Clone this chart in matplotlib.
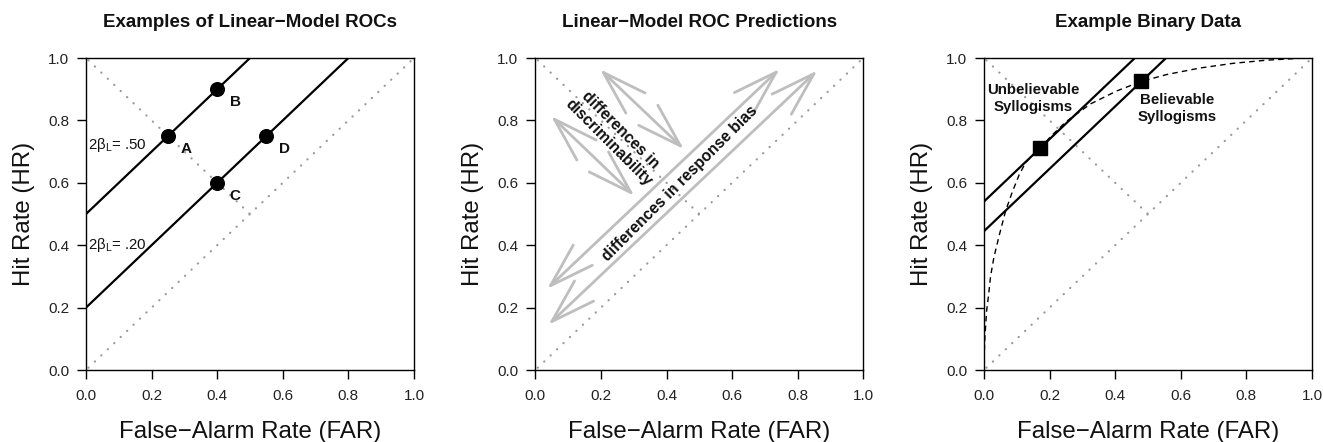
import matplotlib
matplotlib.use("Agg")
import matplotlib.pyplot as plt

plt.rcParams['font.family'] = ['Liberation Sans', 'DejaVu Sans']
plt.rcParams['mathtext.fontset'] = 'custom'
plt.rcParams['mathtext.rm'] = 'Liberation Sans'
plt.rcParams['mathtext.it'] = 'Liberation Sans'

# ---------------- data ----------------
ticks = [0.0, 0.2, 0.4, 0.6, 0.8, 1.0]
tick_labels = ['0.0', '0.2', '0.4', '0.6', '0.8', '1.0']

titles = ['Examples of Linear\u2212Model ROCs', 'Linear\u2212Model ROC Predictions', 'Example Binary Data']
xlabel = 'False\u2212Alarm Rate (FAR)'
ylabel = 'Hit Rate (HR)'

# chance diagonal and anti-diagonal (to midpoint)
diag_x = [0.0, 1.0]
diag_y = [0.0, 1.0]
anti_x = [0.0, 0.5]
anti_y = [1.0, 0.5]

# panel 1
p1_intercepts = [0.50, 0.20]
p1_beta_labels = [r'2β$_\mathrm{L}$= .50', r'2β$_\mathrm{L}$= .20']
p1_beta_label_y = [0.72, 0.40]
p1_far = [0.25, 0.40, 0.40, 0.55]
p1_hr = [0.75, 0.90, 0.60, 0.75]
p1_names = ['A', 'B', 'C', 'D']

# panel 2 arrows (start, end)
bias_start = [(0.036, 0.26), (0.040, 0.145)]
bias_end = [(0.745, 0.965), (0.860, 0.960)]
disc_start = [(0.048, 0.814), (0.197, 0.964)]
disc_end = [(0.302, 0.558), (0.453, 0.708)]
disc_text = 'differences in\ndiscriminability'
bias_text = 'differences in response bias'

# panel 3
p3_intercepts = [0.54, 0.445]
p3_far = [0.17, 0.48]
p3_hr = [0.71, 0.925]
p3_names = ['Unbelievable\nSyllogisms', 'Believable\nSyllogisms']
curve_far = [0.0, 0.001, 0.003, 0.008, 0.014, 0.020, 0.030, 0.046, 0.066, 0.086, 0.107,
             0.127, 0.150, 0.170, 0.203, 0.249, 0.325, 0.406, 0.480, 0.557, 0.659,
             0.760, 0.862, 0.963, 1.0]
curve_hr = [0.0, 0.06, 0.11, 0.19, 0.24, 0.30, 0.36, 0.43, 0.51, 0.57, 0.625,
            0.665, 0.69, 0.71, 0.748, 0.795, 0.853, 0.895, 0.925, 0.947, 0.968,
            0.983, 0.993, 0.999, 1.0]

# ---------------- styling ----------------
W, H = 1323, 442
fig = plt.figure(figsize=(W / 100, H / 100), dpi=100)
lefts = [86, 535.3, 984]
ax_w, ax_top, ax_bot = 328, 58, 370
dot_col = '#9a9a9a'
arrow_col = '#bebebe'
dotted = (2.5, (0.1, 3.9))

axes = []
for i, lpx in enumerate(lefts):
    ax = fig.add_axes([lpx / W, (H - ax_bot) / H, ax_w / W, (ax_bot - ax_top) / H])
    ax.set_xlim(0, 1)
    ax.set_ylim(0, 1)
    ax.set_xticks(ticks)
    ax.set_xticklabels(tick_labels)
    ax.set_yticks(ticks)
    ax.set_yticklabels(tick_labels)
    ax.tick_params(direction='out', length=6.2, width=1.0, labelsize=11, colors='black',
                   labelcolor='#222222')
    ax.tick_params(axis='x', pad=7.5)
    ax.tick_params(axis='y', pad=6.0)
    for s in ax.spines.values():
        s.set_linewidth(1.0)
    ax.set_title(titles[i], fontsize=13.5, fontweight='bold', pad=22, color='#111111')
    ax.set_xlabel(xlabel, fontsize=17.3, color='#111111')
    ax.set_ylabel(ylabel, fontsize=17.3, color='#111111')
    ax.xaxis.set_label_coords(0.5, -0.165)
    ax.yaxis.set_label_coords(-0.157, 0.5)
    ax.plot(diag_x, diag_y, color=dot_col, lw=1.6, linestyle=dotted,
            dash_capstyle='round', zorder=1)
    ax.plot(anti_x, anti_y, color=dot_col, lw=1.6, linestyle=dotted,
            dash_capstyle='round', zorder=1)
    axes.append(ax)

# panel 1
ax = axes[0]
for b in p1_intercepts:
    ax.axline((0, b), slope=1, color='black', lw=1.6, zorder=2)
for lab, y in zip(p1_beta_labels, p1_beta_label_y):
    ax.text(0.005, y, lab, fontsize=10.8, ha='left', va='center', color='#111111')
ax.plot(p1_far, p1_hr, 'o', color='black', markersize=9.8, zorder=3)
for x, y, n in zip(p1_far, p1_hr, p1_names):
    ax.text(x + 0.055, y - 0.042, n, fontsize=11, fontweight='bold', ha='center',
            va='center', color='#111111')

# panel 2
ax = axes[1]
for (s, e) in list(zip(bias_start, bias_end)) + list(zip(disc_start, disc_end)):
    ax.annotate('', xy=e, xytext=s,
                arrowprops=dict(arrowstyle='<->,head_length=3.2,head_width=1.0',
                                color=arrow_col, lw=2.0, shrinkA=0, shrinkB=0,
                                mutation_scale=10), zorder=3)
ax.text(0.241, 0.748, disc_text, rotation=-45, rotation_mode='anchor', fontsize=11.3,
        fontweight='bold', ha='center', va='center', multialignment='center', zorder=4,
        color='#111111')
ax.text(0.44, 0.598, bias_text, rotation=45, rotation_mode='anchor', fontsize=11.3,
        fontweight='bold', ha='center', va='center', zorder=4, color='#111111')

# panel 3
ax = axes[2]
for b in p3_intercepts:
    ax.axline((0, b), slope=1, color='black', lw=1.6, zorder=2)
ax.plot(curve_far, curve_hr, color='black', lw=1.0, linestyle=(0, (4, 3)), zorder=2)
ax.plot(p3_far, p3_hr, 's', color='black', markersize=9.6, zorder=3)
ax.text(0.151, 0.869, p3_names[0], fontsize=10.8, fontweight='bold', ha='center',
        va='center', linespacing=1.25, color='#111111')
ax.text(0.59, 0.837, p3_names[1], fontsize=10.8, fontweight='bold', ha='center',
        va='center', linespacing=1.25, color='#111111')

fig.savefig('out.png', dpi=100)
